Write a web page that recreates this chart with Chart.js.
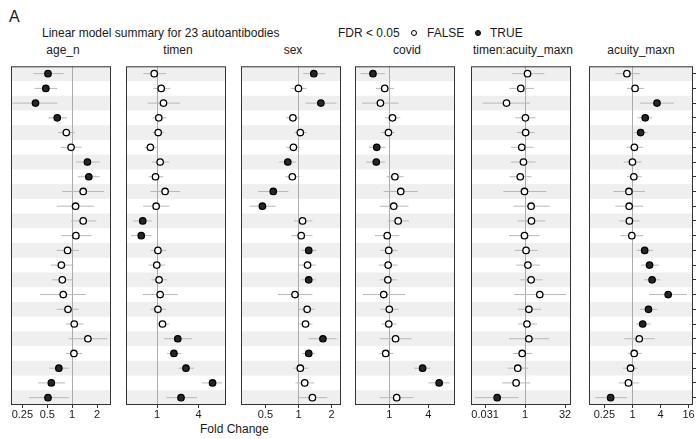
<!DOCTYPE html>
<html><head><meta charset="utf-8">
<script src="https://cdn.jsdelivr.net/npm/chart.js@4.4.1/dist/chart.umd.min.js"></script>
<style>
html,body{margin:0;padding:0;background:#fff;width:696px;height:439px;overflow:hidden;position:relative;font-family:"Liberation Sans",Arial,sans-serif;color:#1a1a1a}
.t{position:absolute;white-space:nowrap;line-height:12px;font-size:12px}
.s{text-align:center;width:104px}
canvas{position:absolute}
.dot{position:absolute;width:6px;height:6px;border-radius:50%;box-sizing:border-box;border:1.2px solid #000}
</style></head><body>
<div class="t" style="left:9px;top:9px;font-size:16px;line-height:16px">A</div>
<div class="t" style="left:42px;top:27px">Linear model summary for 23 autoantibodies</div>
<div class="t" style="left:338px;top:27px">FDR &lt; 0.05</div>
<div class="dot" style="left:410.5px;top:29.7px;background:#fff"></div>
<div class="t" style="left:427px;top:27px">FALSE</div>
<div class="dot" style="left:474.5px;top:29.7px;background:#262626"></div>
<div class="t" style="left:490px;top:27px">TRUE</div>
<div class="t" style="left:200px;top:423px">Fold Change</div>
<div id="strips"></div>
<script>
// ---- data ----
const terms = ['age_n','timen','sex','covid','timen:acuity_maxn','acuity_maxn'];

const age_n_fc  = [0.51,0.48,0.36,0.66,0.85,0.97,1.53,1.59,1.36,1.10,1.36,1.11,0.88,0.74,0.76,0.78,0.89,1.06,1.55,1.05,0.69,0.56,0.51];
const age_n_lo  = [0.34,0.35,0.19,0.51,0.68,0.73,1.11,1.18,0.76,0.65,0.97,0.74,0.65,0.55,0.57,0.41,0.65,0.84,0.91,0.84,0.53,0.39,0.30];
const age_n_hi  = [0.79,0.66,0.66,0.87,1.08,1.30,2.16,2.16,2.43,1.84,1.96,1.71,1.21,1.04,1.03,1.46,1.20,1.37,2.66,1.32,0.91,0.82,0.92];
const age_n_sig = [1,1,1,1,0,0,1,1,0,0,0,0,0,0,0,0,0,0,0,0,1,1,1];

const timen_fc  = [0.91,1.15,1.24,1.06,1.04,0.80,1.11,0.95,1.31,0.97,0.62,0.59,1.03,0.99,1.07,1.11,1.03,1.20,2.00,1.76,2.63,6.40,2.23];
const timen_lo  = [0.63,0.88,0.73,0.86,0.86,0.66,0.84,0.75,0.80,0.63,0.45,0.42,0.80,0.75,0.83,0.62,0.80,0.98,1.26,1.40,2.05,4.50,1.36];
const timen_hi  = [1.36,1.56,2.16,1.36,1.28,1.01,1.51,1.23,2.16,1.51,0.84,0.84,1.36,1.30,1.40,2.00,1.36,1.51,3.23,2.23,3.44,8.85,3.79];
const timen_sig = [0,0,0,0,0,0,0,0,0,0,1,1,0,0,0,0,0,0,1,1,1,1,1];

const sex_fc  = [1.38,1.00,1.60,0.89,1.04,0.90,0.80,0.88,0.59,0.47,1.09,1.06,1.24,1.21,1.24,0.93,1.20,1.16,1.67,1.24,1.04,1.14,1.34];
const sex_lo  = [1.10,0.85,1.16,0.77,0.92,0.77,0.67,0.76,0.43,0.36,0.91,0.86,1.06,1.01,1.06,0.65,1.01,1.00,1.24,1.08,0.90,0.94,0.98];
const sex_hi  = [1.75,1.19,2.23,1.03,1.19,1.04,0.95,1.03,0.81,0.62,1.34,1.34,1.46,1.44,1.44,1.34,1.41,1.34,2.23,1.41,1.23,1.39,1.83];
const sex_sig = [1,0,1,0,0,0,1,0,1,1,0,0,1,0,1,0,0,0,1,1,0,0,0];

const covid_fc  = [0.56,0.85,0.73,1.12,0.97,0.64,0.63,1.22,1.50,1.17,1.37,0.93,0.98,0.96,0.95,0.82,1.00,0.98,1.25,0.88,3.26,5.87,1.30];
const covid_lo  = [0.36,0.62,0.38,0.85,0.75,0.48,0.44,0.91,0.82,0.71,0.95,0.60,0.73,0.69,0.71,0.39,0.73,0.75,0.71,0.70,2.41,4.00,0.71];
const covid_hi  = [0.86,1.18,1.40,1.48,1.21,0.87,0.87,1.66,2.75,1.97,2.01,1.43,1.33,1.34,1.30,1.76,1.40,1.30,2.20,1.15,4.33,8.50,2.38];
const covid_sig = [1,0,0,0,0,1,1,0,0,0,0,0,0,0,0,0,0,0,0,0,1,1,0];

const inter_fc  = [1.24,0.69,0.20,1.03,1.05,0.75,0.87,0.66,0.95,1.69,1.74,0.95,1.09,1.28,1.69,3.58,1.39,1.18,1.39,0.78,0.53,0.46,0.089];
const inter_lo  = [0.33,0.25,0.025,0.43,0.50,0.30,0.29,0.26,0.15,0.36,0.53,0.25,0.41,0.46,0.66,0.38,0.54,0.53,0.25,0.35,0.22,0.14,0.013];
const inter_hi  = [5.3,2.17,1.52,2.5,2.3,2.1,2.5,1.74,6.3,8.5,5.8,3.5,3.03,3.68,4.6,35,4.0,2.8,8.1,1.84,1.32,1.56,0.57];
const inter_sig = [0,0,0,0,0,0,0,0,0,0,0,0,0,0,0,0,0,0,0,0,0,0,1];

const acuity_fc  = [0.76,1.14,3.36,1.88,1.50,1.10,1.00,1.07,0.84,0.85,0.86,0.97,1.83,2.33,2.64,5.84,2.21,1.66,1.40,1.09,0.91,0.82,0.34];
const acuity_lo  = [0.43,0.76,1.45,1.30,1.09,0.76,0.65,0.76,0.39,0.43,0.52,0.55,1.24,1.53,1.77,2.28,1.45,1.18,0.67,0.80,0.63,0.51,0.16];
const acuity_hi  = [1.45,1.77,7.7,2.69,2.11,1.66,1.58,1.58,1.85,1.70,1.45,1.70,2.77,3.65,3.97,14.6,3.43,2.44,3.0,1.58,1.30,1.39,0.76];
const acuity_sig = [0,0,1,1,1,0,0,0,0,0,0,0,1,1,1,1,1,1,0,0,0,0,1];

const age_n_ticks = [0.25,0.5,1,2],   age_n_tick_labels = ['0.25','0.5','1','2'];
const timen_ticks = [1,4],            timen_tick_labels = ['1','4'];
const sex_ticks = [0.5,1,2],          sex_tick_labels = ['0.5','1','2'];
const covid_ticks = [1,4],            covid_tick_labels = ['1','4'];
const inter_ticks = [0.03125,1,32],   inter_tick_labels = ['0.031','1','32'];
const acuity_ticks = [0.25,1,4,16],   acuity_tick_labels = ['0.25','1','4','16'];

const series = [
  {fc:age_n_fc, lo:age_n_lo, hi:age_n_hi, sig:age_n_sig, ticks:age_n_ticks, labels:age_n_tick_labels},
  {fc:timen_fc, lo:timen_lo, hi:timen_hi, sig:timen_sig, ticks:timen_ticks, labels:timen_tick_labels},
  {fc:sex_fc, lo:sex_lo, hi:sex_hi, sig:sex_sig, ticks:sex_ticks, labels:sex_tick_labels},
  {fc:covid_fc, lo:covid_lo, hi:covid_hi, sig:covid_sig, ticks:covid_ticks, labels:covid_tick_labels},
  {fc:inter_fc, lo:inter_lo, hi:inter_hi, sig:inter_sig, ticks:inter_ticks, labels:inter_tick_labels},
  {fc:acuity_fc, lo:acuity_lo, hi:acuity_hi, sig:acuity_sig, ticks:acuity_ticks, labels:acuity_tick_labels}
];

// ---- layout (positions / scale ranges) ----
const geom = [
  {left:11,  min:0.182,  max:2.95},
  {left:126, min:0.354,  max:10.04},
  {left:241, min:0.336,  max:2.44},
  {left:355, min:0.296,  max:10.3},
  {left:471, min:0.0092, max:53.7},
  {left:589, min:0.117,  max:19.9}
];
const TOP = 61, H = 344, W = 104, AX = 24, PAD = 20;
const FONT = '"Liberation Sans", Arial, sans-serif';

const facetPlugin = {
  id: 'facet',
  beforeDatasetsDraw(chart) {
    const {ctx, chartArea: a, scales: {x, y}} = chart;
    const n = chart.data.datasets[0].data.length;
    ctx.save();
    ctx.fillStyle = '#efefef';
    for (let i = 0; i < n; i += 2) {
      const y0 = y.getPixelForValue(i - 0.5), y1 = y.getPixelForValue(i + 0.5);
      ctx.fillRect(a.left, Math.min(y0, y1), a.right - a.left, Math.abs(y1 - y0));
    }
    const xv = Math.round(x.getPixelForValue(1)) + 0.5;
    ctx.strokeStyle = '#ababab'; ctx.lineWidth = 1;
    ctx.beginPath(); ctx.moveTo(xv, a.top); ctx.lineTo(xv, a.bottom); ctx.stroke();
    ctx.restore();
  },
  afterDatasetsDraw(chart) {
    const {ctx, chartArea: a} = chart;
    ctx.save();
    ctx.strokeStyle = '#333'; ctx.lineWidth = 1;
    ctx.strokeRect(a.left + 0.5, a.top + 0.5, a.right - a.left - 1, a.bottom - a.top - 1);
    ctx.restore();
  }
};

const strips = document.getElementById('strips');
series.forEach((p, k) => {
  const g = geom[k];
  const isRight = k === series.length - 1;
  const lab = document.createElement('div');
  lab.className = 't s';
  lab.style.left = g.left + 'px'; lab.style.top = '44px';
  lab.textContent = terms[k];
  strips.appendChild(lab);

  const c = document.createElement('canvas');
  const cw = W + 2 * PAD + (isRight ? 4 : 0);
  c.width = cw; c.height = H + AX;
  c.style.left = (g.left - PAD) + 'px'; c.style.top = TOP + 'px';
  c.style.width = cw + 'px'; c.style.height = (H + AX) + 'px';
  document.body.appendChild(c);

  const datasets = [{
    type: 'scatter',
    data: p.fc.map((v, i) => ({x: v, y: i})),
    pointRadius: 3.2,
    pointBorderWidth: 1.3,
    pointBackgroundColor: p.sig.map(s => s ? '#262626' : '#ffffff'),
    pointBorderColor: '#000',
    order: 0
  }];
  p.fc.forEach((v, i) => datasets.push({
    type: 'line',
    data: [{x: p.lo[i], y: i}, {x: p.hi[i], y: i}],
    borderColor: '#b8b8b8', borderWidth: 1, pointRadius: 0, order: 1
  }));

  new Chart(c, {
    type: 'scatter',
    data: {datasets},
    plugins: [facetPlugin],
    options: {
      responsive: false, animation: false, events: [],
      layout: {padding: {left: PAD, right: PAD, top: 0, bottom: 0}},
      plugins: {legend: {display: false}, tooltip: {enabled: false}},
      scales: {
        x: {
          type: 'logarithmic', min: g.min, max: g.max,
          afterBuildTicks: s => { s.ticks = p.ticks.map(v => ({value: v})); },
          afterFit: s => { s.height = AX; },
          ticks: {autoSkip: false, maxRotation: 0, minRotation: 0, padding: 0, color: '#1a1a1a',
                  font: {family: FONT, size: 11}, callback: (v, i) => p.labels[i]},
          grid: {display: true, drawOnChartArea: false, drawTicks: true, tickLength: 3, color: '#333'},
          border: {display: false}
        },
        y: {
          type: 'linear', min: -0.5, max: 22.5, reverse: true, position: 'right', display: isRight,
          afterBuildTicks: s => { s.ticks = p.fc.map((_, i) => ({value: i})); },
          afterFit: s => { s.width = 4; },
          ticks: {display: false},
          grid: {display: true, drawOnChartArea: false, drawTicks: true, tickLength: 3, color: '#333'},
          border: {display: false}
        }
      }
    }
  });
});
</script>
</body></html>
